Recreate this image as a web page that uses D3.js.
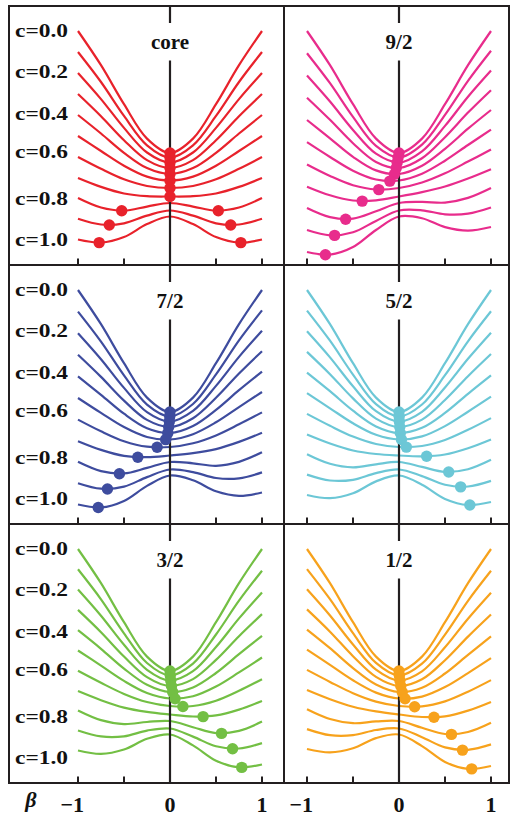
<!DOCTYPE html>
<html><head><meta charset="utf-8">
<script src="https://cdn.jsdelivr.net/npm/d3@7"></script>
<style>body{margin:0;background:#fff}svg{display:block}</style>
</head><body><svg id="chart" width="510" height="818"></svg>
<script>
// ---------- data ----------
const betaGrid = [-1, -0.75, -0.5, -0.25, 0, 0.25, 0.5, 0.75, 1];
const cValues = [0.0, 0.1, 0.2, 0.3, 0.4, 0.5, 0.6, 0.7, 0.8, 0.9, 1.0];
const cLabels = ["c=0.0", "c=0.2", "c=0.4", "c=0.6", "c=0.8", "c=1.0"];
const cLabelLevels = [23.4, 19.3, 15.15, 11.3, 6.65, 2.5];
const xTicks = [-1, -0.5, 0, 0.5, 1];
const xTickLabels = [-1, 0, 1];
const panelTitles = ["core", "9/2", "7/2", "5/2", "3/2", "1/2"];
const panelColors = ["#E8222B", "#E82C8C", "#3E4C9E", "#6CC7D6", "#73BF44", "#F7A21C"];

// energy curves E(beta) for c = 0.0 ... 1.0, sampled on betaGrid
const coreCurves = [
  [23.40,19.98,16.08,12.64,11.20,12.64,16.08,19.98,23.40],
  [21.30,18.30,14.91,11.97,10.75,11.97,14.91,18.30,21.30],
  [19.20,16.59,13.71,11.25,10.25,11.25,13.71,16.59,19.20],
  [17.10,14.88,12.48,10.49, 9.70,10.49,12.48,14.88,17.10],
  [15.00,13.15,11.22, 9.69, 9.10, 9.69,11.22,13.15,15.00],
  [12.90,11.40, 9.93, 8.84, 8.45, 8.84, 9.93,11.40,12.90],
  [10.80, 9.62, 8.57, 7.90, 7.70, 7.90, 8.57, 9.62,10.80],
  [ 8.70, 7.81, 7.15, 6.88, 6.85, 6.88, 7.15, 7.81, 8.70],
  [ 6.70, 5.75, 5.44, 5.84, 6.20, 5.84, 5.44, 5.75, 6.70],
  [ 4.62, 4.05, 4.17, 4.94, 5.45, 4.94, 4.17, 4.05, 4.62],
  [ 2.55, 2.24, 2.79, 4.09, 4.85, 4.09, 2.79, 2.24, 2.55]
];
const j92Curves = [
  [23.40,19.98,16.08,12.64,11.20,12.64,16.08,19.98,23.40],
  [21.18,18.18,14.81,11.91,10.75,12.03,15.01,18.42,21.43],
  [18.95,16.35,13.51,11.13,10.25,11.37,13.91,16.83,19.45],
  [16.73,14.52,12.18,10.31, 9.70,10.67,12.78,15.24,17.48],
  [14.50,12.67,10.82, 9.46, 9.10, 9.93,11.62,13.63,15.50],
  [12.28,10.80, 9.43, 8.55, 8.45, 9.13,10.43,12.00,13.53],
  [10.05, 8.90, 7.97, 7.55, 7.70, 8.25, 9.17,10.34,11.55],
  [ 7.83, 6.97, 6.45, 6.47, 6.85, 7.29, 7.85, 8.65, 9.58],
  [ 5.70, 4.79, 4.64, 5.37, 6.20, 6.31, 6.24, 6.71, 7.70],
  [ 3.50, 2.97, 3.27, 4.41, 5.45, 5.47, 5.07, 5.13, 5.75],
  [ 1.30, 1.04, 1.79, 3.50, 4.85, 4.68, 3.79, 3.44, 3.80]
];
const j72Curves = [
  [23.40,19.98,16.08,12.64,11.20,12.64,16.08,19.98,23.40],
  [21.24,18.24,14.86,11.94,10.75,12.00,14.96,18.36,21.36],
  [19.08,16.48,13.61,11.19,10.25,11.31,13.81,16.71,19.32],
  [16.92,14.71,12.34,10.41, 9.70,10.58,12.62,15.05,17.28],
  [14.76,12.92,11.03, 9.58, 9.10, 9.80,11.41,13.38,15.24],
  [12.60,11.11, 9.69, 8.70, 8.45, 8.98,10.17,11.69,13.20],
  [10.44, 9.27, 8.28, 7.73, 7.70, 8.07, 8.86, 9.97,11.16],
  [ 8.28, 7.41, 6.81, 6.68, 6.85, 7.08, 7.49, 8.21, 9.12],
  [ 6.22, 5.29, 5.06, 5.61, 6.20, 6.07, 5.82, 6.21, 7.18],
  [ 4.08, 3.53, 3.74, 4.69, 5.45, 5.19, 4.60, 4.57, 5.16],
  [ 1.95, 1.66, 2.31, 3.81, 4.85, 4.37, 3.27, 2.82, 3.15]
];
const j52Curves = [
  [23.40,19.98,16.08,12.64,11.20,12.64,16.08,19.98,23.40],
  [21.34,18.33,14.94,11.99,10.75,11.95,14.88,18.27,21.27],
  [19.27,16.66,13.77,11.28,10.25,11.22,13.65,16.52,19.13],
  [17.21,14.98,12.56,10.54, 9.70,10.44,12.40,14.78,17.00],
  [15.14,13.28,11.33, 9.76, 9.10, 9.62,11.11,13.02,14.86],
  [13.08,11.57,10.07, 8.92, 8.45, 8.76, 9.79,11.23,12.73],
  [11.01, 9.82, 8.74, 8.00, 7.70, 7.80, 8.40, 9.42,10.59],
  [ 8.95, 8.05, 7.35, 7.00, 6.85, 6.77, 6.95, 7.58, 8.46],
  [ 6.98, 6.02, 5.66, 5.97, 6.20, 5.71, 5.22, 5.48, 6.42],
  [ 4.94, 4.35, 4.42, 5.09, 5.45, 4.79, 3.92, 3.75, 4.31],
  [ 2.90, 2.58, 3.07, 4.26, 4.85, 3.93, 2.51, 1.90, 2.20]
];
const j32Curves = [
  [23.40,19.98,16.08,12.64,11.20,12.64,16.08,19.98,23.40],
  [21.37,18.37,14.97,12.00,10.75,11.94,14.85,18.23,21.23],
  [19.34,16.72,13.82,11.32,10.25,11.18,13.60,16.46,19.06],
  [17.31,15.08,12.65,10.59, 9.70,10.39,12.31,14.68,16.89],
  [15.28,13.42,11.44, 9.82, 9.10, 9.56,11.00,12.88,14.72],
  [13.25,11.74,10.21, 9.00, 8.45, 8.68, 9.65,11.06,12.55],
  [11.22,10.02, 8.91, 8.10, 7.70, 7.70, 8.23, 9.22,10.38],
  [ 9.19, 8.28, 7.54, 7.11, 6.85, 6.65, 6.76, 7.34, 8.21],
  [ 7.26, 6.29, 5.89, 6.10, 6.20, 5.58, 4.99, 5.21, 6.14],
  [ 5.25, 4.66, 4.67, 5.24, 5.45, 4.64, 3.67, 3.45, 3.99],
  [ 3.25, 2.91, 3.35, 4.42, 4.85, 3.76, 2.23, 1.57, 1.85]
];
const j12Curves = [
  [23.40,19.98,16.08,12.64,11.20,12.64,16.08,19.98,23.40],
  [21.39,18.38,14.98,12.01,10.75,11.93,14.84,18.22,21.22],
  [19.37,16.75,13.85,11.33,10.25,11.17,13.57,16.43,19.03],
  [17.36,15.13,12.68,10.61, 9.70,10.37,12.28,14.64,16.85],
  [15.34,13.48,11.49, 9.85, 9.10, 9.53,10.95,12.82,14.66],
  [13.33,11.81,10.27, 9.04, 8.45, 8.64, 9.59,10.99,12.48],
  [11.31,10.11, 8.98, 8.14, 7.70, 7.66, 8.16, 9.13,10.29],
  [ 9.30, 8.38, 7.63, 7.16, 6.85, 6.60, 6.67, 7.24, 8.11],
  [ 7.38, 6.40, 5.98, 6.16, 6.20, 5.52, 4.90, 5.10, 6.02],
  [ 5.39, 4.78, 4.78, 5.30, 5.45, 4.58, 3.56, 3.32, 3.86],
  [ 3.40, 3.06, 3.47, 4.49, 4.85, 3.69, 2.11, 1.42, 1.70]
];

// energy minima (beta positions and energies) per c
const coreMinBeta = [[0],[0],[0],[0],[0],[0],[0],[0],[-0.525,0.525],[-0.66,0.66],[-0.77,0.77]];
const coreMinE    = [11.20,10.75,10.25,9.70,9.10,8.45,7.70,6.85,5.43,4.00,2.24];
const j92MinBeta = [0,-0.01,-0.02,-0.03,-0.05,-0.10,-0.22,-0.40,-0.58,-0.70,-0.80];
const j92MinE    = [11.20,10.75,10.25,9.69,9.07,8.39,7.54,6.39,4.58,2.96,1.02];
const j72MinBeta = [0,-0.003,-0.007,-0.014,-0.024,-0.047,-0.14,-0.35,-0.55,-0.68,-0.78];
const j72MinE    = [11.20,10.75,10.25,9.70,9.09,8.44,7.67,6.68,5.03,3.50,1.65];
const j52MinBeta = [0,0.002,0.004,0.008,0.014,0.027,0.08,0.30,0.54,0.67,0.77];
const j52MinE    = [11.20,10.75,10.25,9.70,9.10,8.45,7.69,6.77,5.20,3.71,1.90];
const j32MinBeta = [0,0.003,0.008,0.016,0.029,0.055,0.14,0.36,0.56,0.68,0.78];
const j32MinE    = [11.20,10.75,10.25,9.70,9.09,8.43,7.65,6.64,4.96,3.42,1.56];
const j12MinBeta = [0,0.004,0.01,0.019,0.035,0.066,0.17,0.38,0.57,0.69,0.79];
const j12MinE    = [11.20,10.75,10.25,9.70,9.09,8.42,7.62,6.57,4.86,3.29,1.41];

// ---------- layout ----------
const W = 510, H = 818;
const frame = {left: 9, right: 509, top: 6, rowH: 259, divX: 284};
const colRange = [[78, 262], [307, 491]];
const yDomain = [0, 25.9];
const ink = "#231f20";
const fontFam = "'Liberation Serif','Times New Roman',Times,serif";

const panels = [
  {curves: coreCurves, minB: coreMinBeta, minE: coreMinE},
  {curves: j92Curves, minB: j92MinBeta.map(b => [b]), minE: j92MinE},
  {curves: j72Curves, minB: j72MinBeta.map(b => [b]), minE: j72MinE},
  {curves: j52Curves, minB: j52MinBeta.map(b => [b]), minE: j52MinE},
  {curves: j32Curves, minB: j32MinBeta.map(b => [b]), minE: j32MinE},
  {curves: j12Curves, minB: j12MinBeta.map(b => [b]), minE: j12MinE}
].map((p, i) => Object.assign(p, {title: panelTitles[i], color: panelColors[i], col: i % 2, row: Math.floor(i / 2)}));

const svg = d3.select("#chart");
svg.append("rect").attr("width", W).attr("height", H).attr("fill", "#fff");

panels.forEach(p => {
  const top = frame.top + p.row * frame.rowH;
  const bottom = top + frame.rowH;
  const x = d3.scaleLinear().domain([-1, 1]).range(colRange[p.col]);
  const y = d3.scaleLinear().domain(yDomain).range([bottom, top]);
  const g = svg.append("g");

  // curves
  const line = d3.line().x(d => x(d[0])).y(d => y(d[1])).curve(d3.curveCatmullRom.alpha(0.5));
  g.selectAll("path.curve").data(p.curves).join("path")
    .attr("class", "curve")
    .attr("d", vals => line(vals.map((v, k) => [betaGrid[k], v])))
    .attr("fill", "none").attr("stroke", p.color).attr("stroke-width", 2.2);

  // beta = 0 line with gap for the title
  g.append("line").attr("x1", x(0)).attr("x2", x(0)).attr("y1", top).attr("y2", top + 17)
    .attr("stroke", ink).attr("stroke-width", 2.2);
  g.append("line").attr("x1", x(0)).attr("x2", x(0)).attr("y1", top + 54.5).attr("y2", bottom)
    .attr("stroke", ink).attr("stroke-width", 2.2);

  // title
  g.append("text").attr("x", x(0)).attr("y", top + 43)
    .attr("text-anchor", "middle").attr("font-family", fontFam).attr("font-weight", "bold")
    .attr("font-size", 21).attr("fill", "#111").text(p.title);

  // minima dots
  const dots = [];
  p.minB.forEach((bs, k) => bs.forEach(b => dots.push([b, p.minE[k]])));
  g.selectAll("circle").data(dots).join("circle")
    .attr("cx", d => x(d[0])).attr("cy", d => y(d[1])).attr("r", 5.7)
    .attr("fill", p.color);

  // ticks along the panel bottom
  g.selectAll("line.tick").data(xTicks).join("line").attr("class", "tick")
    .attr("x1", d => x(d)).attr("x2", d => x(d)).attr("y1", bottom).attr("y2", bottom - 6.5)
    .attr("stroke", ink).attr("stroke-width", 2);

  // c labels on the left
  if (p.col === 0) {
    g.selectAll("text.clab").data(cLabels).join("text").attr("class", "clab")
      .attr("x", 15).attr("y", (d, k) => y(cLabelLevels[k]))
      .attr("dy", "0.34em")
      .attr("font-family", fontFam).attr("font-weight", "bold").attr("font-size", 19)
      .attr("textLength", 53).attr("lengthAdjust", "spacingAndGlyphs")
      .attr("fill", "#111").text(d => d);
  }

  // bottom tick labels
  if (p.row === 2) {
    g.selectAll("text.xlab").data(xTickLabels).join("text").attr("class", "xlab")
      .attr("x", d => d < 0 ? x(d) + 6 : x(d))
      .attr("y", 812)
      .attr("text-anchor", d => d < 0 ? "end" : "middle")
      .attr("font-family", fontFam).attr("font-weight", "bold").attr("font-size", 22)
      .attr("fill", "#111").text(d => d < 0 ? "\u2212" + Math.abs(d) : d);
  }
});

// frame
const fr = svg.append("g").attr("stroke", ink).attr("stroke-width", 2).attr("fill", "none");
const fBottom = frame.top + 3 * frame.rowH;
fr.append("rect").attr("x", frame.left).attr("y", frame.top)
  .attr("width", frame.right - frame.left).attr("height", fBottom - frame.top);
fr.append("line").attr("x1", frame.divX).attr("x2", frame.divX).attr("y1", frame.top).attr("y2", fBottom);
[1, 2].forEach(r => fr.append("line").attr("x1", frame.left).attr("x2", frame.right)
  .attr("y1", frame.top + r * frame.rowH).attr("y2", frame.top + r * frame.rowH));

// beta axis symbol
svg.append("text").attr("x", 31).attr("y", 807).attr("text-anchor", "middle")
  .attr("font-family", fontFam).attr("font-weight", "bold").attr("font-style", "italic")
  .attr("font-size", 22).attr("fill", "#111").text("\u03B2");
</script>
</body></html>
